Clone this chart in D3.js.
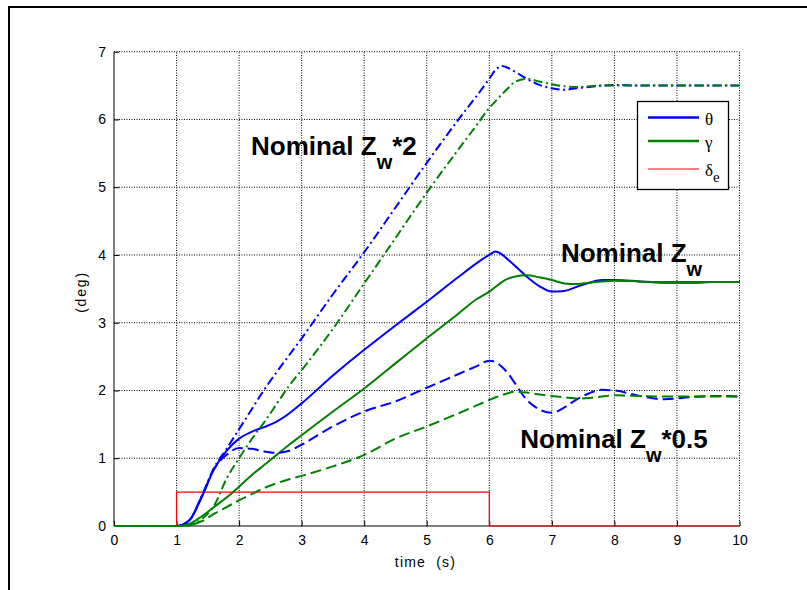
<!DOCTYPE html>
<html><head><meta charset="utf-8">
<script src="https://cdn.jsdelivr.net/npm/d3@7"></script>
<style>
html,body{margin:0;padding:0;background:#fff;}
</style></head>
<body>
<svg id="chart" width="807" height="590" font-family="Liberation Sans, Arial, sans-serif"></svg>
<script>
// ---- data ----
const time = [0, 1, 1.2, 1.4, 1.6, 1.8, 2.0, 2.2, 2.4, 2.6, 2.8, 3.0, 3.5, 4.0, 4.5, 5.0, 5.5, 5.8, 6.0, 6.1, 6.2, 6.3, 6.4, 6.6, 6.8, 7.0, 7.2, 7.4, 7.6, 7.8, 8.0, 8.4, 8.8, 9.2, 9.6, 10];
const thetaNominal = [0, 0, 0.08, 0.42, 0.84, 1.11, 1.29, 1.39, 1.46, 1.54, 1.66, 1.81, 2.22, 2.60, 2.96, 3.31, 3.67, 3.88, 4.00, 4.05, 4.01, 3.93, 3.85, 3.68, 3.54, 3.46, 3.47, 3.53, 3.59, 3.63, 3.63, 3.61, 3.59, 3.59, 3.60, 3.60];
const gammaNominal = [0, 0, 0.03, 0.14, 0.28, 0.42, 0.58, 0.75, 0.90, 1.05, 1.20, 1.34, 1.69, 2.03, 2.40, 2.77, 3.13, 3.35, 3.46, 3.53, 3.60, 3.65, 3.68, 3.70, 3.67, 3.63, 3.58, 3.57, 3.59, 3.61, 3.62, 3.61, 3.60, 3.60, 3.60, 3.60];
const thetaDouble = [0, 0, 0.08, 0.44, 0.86, 1.14, 1.43, 1.72, 2.01, 2.27, 2.52, 2.77, 3.42, 4.04, 4.70, 5.36, 5.99, 6.35, 6.60, 6.73, 6.79, 6.76, 6.71, 6.60, 6.51, 6.46, 6.44, 6.46, 6.48, 6.50, 6.51, 6.50, 6.50, 6.50, 6.50, 6.50];
const gammaDouble = [0, 0, 0.01, 0.10, 0.30, 0.70, 1.00, 1.28, 1.53, 1.80, 2.07, 2.30, 2.91, 3.58, 4.25, 4.92, 5.55, 5.92, 6.17, 6.27, 6.37, 6.46, 6.55, 6.60, 6.56, 6.52, 6.49, 6.48, 6.49, 6.50, 6.50, 6.50, 6.50, 6.50, 6.50, 6.50];
const thetaHalf = [0, 0, 0.08, 0.43, 0.84, 1.05, 1.15, 1.14, 1.10, 1.08, 1.11, 1.20, 1.47, 1.69, 1.84, 2.04, 2.24, 2.36, 2.44, 2.42, 2.35, 2.25, 2.12, 1.86, 1.72, 1.67, 1.75, 1.87, 1.96, 2.01, 2.00, 1.92, 1.87, 1.90, 1.92, 1.91];
const gammaHalf = [0, 0, 0.01, 0.07, 0.18, 0.28, 0.38, 0.47, 0.56, 0.63, 0.69, 0.74, 0.88, 1.05, 1.29, 1.47, 1.66, 1.78, 1.86, 1.90, 1.93, 1.96, 1.98, 1.97, 1.94, 1.92, 1.90, 1.88, 1.89, 1.91, 1.93, 1.92, 1.91, 1.91, 1.91, 1.91];
const elevTime = [0, 1, 1, 6, 6, 10];
const elevator = [0, 0, 0.5, 0.5, 0, 0];
const xTicks = [0, 1, 2, 3, 4, 5, 6, 7, 8, 9, 10];
const yTicks = [0, 1, 2, 3, 4, 5, 6, 7];
const legendLabels = ["θ", "γ", "δ"];
const annotations = [
  {text: "Nominal Z", sub: "w", tail: "*2", t: 2.19, v: 5.47},
  {text: "Nominal Z", sub: "w", tail: "", t: 7.145, v: 3.90},
  {text: "Nominal Z", sub: "w", tail: "*0.5", t: 6.495, v: 1.15}
];

// ---- layout ----
const svg = d3.select("#chart");
const x = d3.scaleLinear().domain([0, 10]).range([114, 739.5]);
const y = d3.scaleLinear().domain([0, 7]).range([526, 51.7]);

// outer frame (top and left edges visible)
svg.append("path").attr("d", "M9,600 L9,7 L820,7").attr("fill", "none")
  .attr("stroke", "#000").attr("stroke-width", 2);

// grid
const grid = svg.append("g");
grid.selectAll(".vg").data(xTicks.slice(1)).join("line")
  .attr("x1", d => x(d)).attr("x2", d => x(d)).attr("y1", y(0)).attr("y2", y(7))
  .attr("stroke", "#000").attr("stroke-width", 1).attr("stroke-dasharray", "1,1.5");
grid.selectAll(".hg").data(yTicks.slice(1)).join("line")
  .attr("x1", x(0)).attr("x2", x(10)).attr("y1", d => y(d)).attr("y2", d => y(d))
  .attr("stroke", "#000").attr("stroke-width", 1).attr("stroke-dasharray", "1,1.5");

// axes
const xAxis = d3.axisBottom(x).tickValues(xTicks).tickSize(-5).tickPadding(9).tickFormat(d3.format("d"));
const yAxis = d3.axisLeft(y).tickValues(yTicks).tickSize(-5).tickPadding(8).tickFormat(d3.format("d"));
const gx = svg.append("g").attr("transform", `translate(0,${y(0)})`).call(xAxis);
const gy = svg.append("g").attr("transform", `translate(${x(0)},0)`).call(yAxis);
[gx, gy].forEach(g => {
  g.attr("font-family", "Liberation Sans, Arial, sans-serif");
  g.select(".domain").attr("stroke", "#000").attr("stroke-width", 1);
  g.selectAll(".tick line").attr("stroke", "#000");
  g.selectAll(".tick text").attr("font-size", 14).attr("fill", "#000");
});
gy.select(".domain").attr("d", `M0,${y(0)}V${y(7)}`);
gx.select(".domain").attr("d", `M0,0H${x(10)-x(0)}`).attr("transform", `translate(${x(0)},0)`);

// axis labels
svg.append("text").attr("x", 425.5).attr("y", 567).attr("text-anchor", "middle")
  .attr("font-size", 14).attr("letter-spacing", 1.2).text("time\u00a0\u00a0(s)");
svg.append("text").attr("transform", "translate(86,292) rotate(-90)").attr("text-anchor", "middle")
  .attr("font-size", 14).attr("letter-spacing", 1.8).text("(deg)");

// curves
const blue = "#0000ff", green = "#008000", red = "#ff0000";
const line = d3.line().x(d => x(d[0])).y(d => y(d[1])).curve(d3.curveMonotoneX);
const stepLine = d3.line().x(d => x(d[0])).y(d => y(d[1]));
const series = [
  {vals: thetaNominal, color: blue, dash: null},
  {vals: gammaNominal, color: green, dash: null},
  {vals: thetaDouble, color: blue, dash: "9,3.5,2,3.5"},
  {vals: thetaHalf, color: blue, dash: "11,5"},
  {vals: gammaDouble, color: green, dash: "9,3.5,2,3.5"},
  {vals: gammaHalf, color: green, dash: "11,5"}
];
const plot = svg.append("g");
plot.append("path").datum(elevTime.map((t, i) => [t, elevator[i]]))
  .attr("d", stepLine).attr("fill", "none").attr("stroke", red).attr("stroke-width", 1.2);
series.forEach(s => {
  plot.append("path").datum(time.map((t, i) => [t, s.vals[i]]))
    .attr("d", line).attr("fill", "none").attr("stroke", s.color)
    .attr("stroke-width", 2).attr("stroke-dasharray", s.dash);
});

// annotations
annotations.forEach(a => {
  const tx = svg.append("text").attr("x", x(a.t)).attr("y", y(a.v))
    .attr("font-size", 26).attr("font-weight", "bold").attr("fill", "#000");
  tx.append("tspan").text(a.text);
  tx.append("tspan").attr("font-size", 20).attr("dy", 14).text(a.sub);
  if (a.tail) tx.append("tspan").attr("dy", -14).text(a.tail);
});

// legend
const lg = svg.append("g");
lg.append("rect").attr("x", 637.5).attr("y", 101.5).attr("width", 91).attr("height", 88)
  .attr("fill", "#fff").attr("stroke", "#000").attr("stroke-width", 1.3);
const legendItems = [
  {label: legendLabels[0], color: blue, w: 2.5, yy: 117.5},
  {label: legendLabels[1], color: green, w: 2.5, yy: 141},
  {label: legendLabels[2], color: red, w: 1.2, yy: 169}
];
legendItems.forEach((it, i) => {
  lg.append("line").attr("x1", 648).attr("x2", 699).attr("y1", it.yy).attr("y2", it.yy)
    .attr("stroke", it.color).attr("stroke-width", it.w);
  const t = lg.append("text").attr("x", 705).attr("y", it.yy + 7)
    .attr("font-family", "Liberation Serif, Times New Roman, serif").attr("font-size", 17).attr("fill", "#000");
  t.append("tspan").text(it.label);
  if (i === 2) t.append("tspan").attr("font-size", 15).attr("dy", 6).text("e");
});
</script>
</body></html>
